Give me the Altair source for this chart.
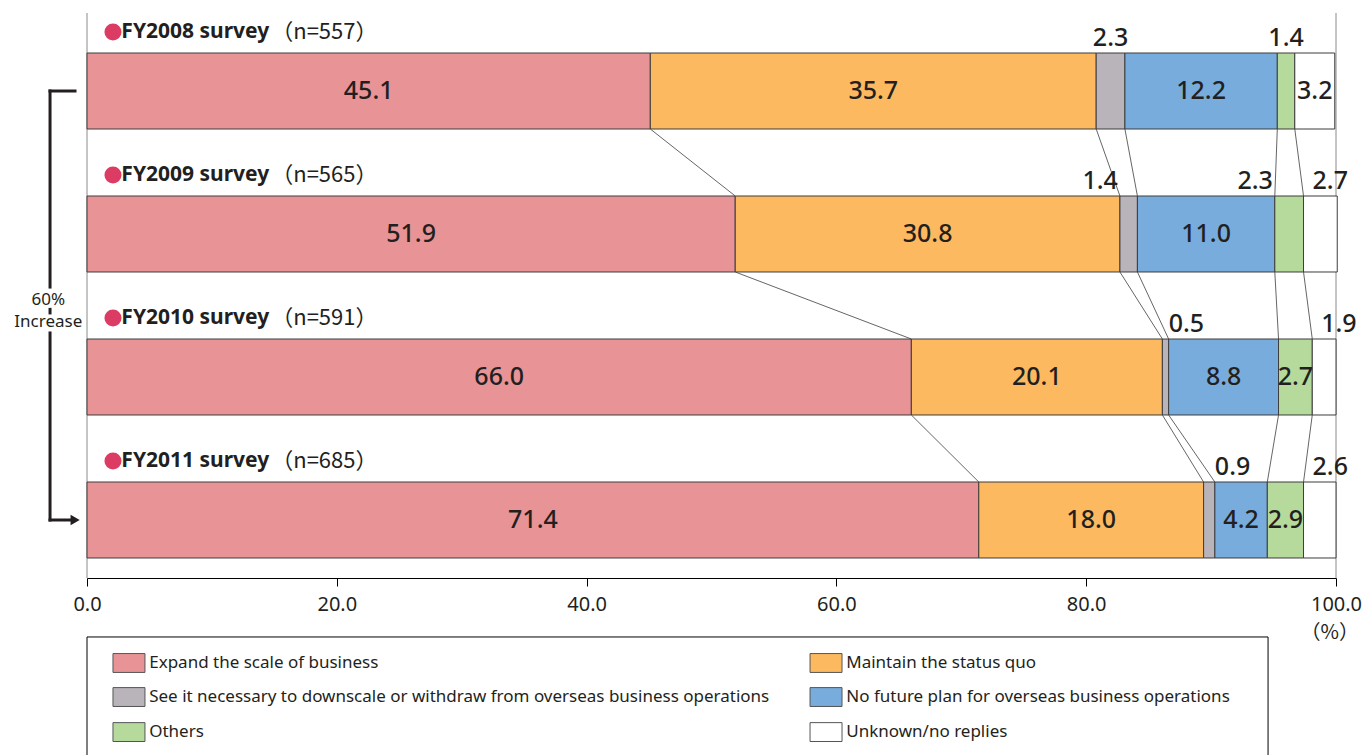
import altair as alt
import pandas as pd

# ---------------- data ----------------
years = ["FY2008 survey", "FY2009 survey", "FY2010 survey", "FY2011 survey"]
counts = ["（n=557）", "（n=565）", "（n=591）", "（n=685）"]
categories = [
    "Expand the scale of business",
    "Maintain the status quo",
    "See it necessary to downscale or withdraw from overseas business operations",
    "No future plan for overseas business operations",
    "Others",
    "Unknown/no replies",
]
expand = [45.1, 51.9, 66.0, 71.4]
maintain = [35.7, 30.8, 20.1, 18.0]
downscale = [2.3, 1.4, 0.5, 0.9]
no_plan = [12.2, 11.0, 8.8, 4.2]
others = [1.4, 2.3, 2.7, 2.9]
unknown = [3.2, 2.7, 1.9, 2.6]
x_ticks = [0, 20, 40, 60, 80, 100]
increase_text = ["60%", "Increase"]
unit_text = "（%）"

# ---------------- style ----------------
colors = ["#E89496", "#FCB960", "#B9B3BA", "#78ACDC", "#B6DA9C", "#FFFFFF"]
dot_color = "#DC3C64"
ink = "#231F20"
FONT = "Noto Sans"
CJK = "Noto Sans CJK JP"
HALF = 0.2657          # half bar thickness (row units)
HEAD_DY = -0.4126      # header offset from row centre
ABOVE_DY = -0.3706     # above-bar label offset
Y_DOMAIN = [-0.5455, 3.4056]
# label placement: (row, category) -> mode ; default inside/centred
# c: centred above, ra: right-aligned above at segment start,
# la: left-aligned above at segment end, ls: left-aligned above at segment start
placement = {
    (0, 2): "c", (0, 4): "c",
    (1, 2): "ra", (1, 4): "ra", (1, 5): "ls",
    (2, 2): "la", (2, 5): "ls",
    (3, 2): "la", (3, 5): "ls",
}

series = [expand, maintain, downscale, no_plan, others, unknown]

# ---------------- tables ----------------
seg_rows, lab_rows = [], []
cums = []
for i in range(len(years)):
    start = 0.0
    row_c = []
    for k, cat in enumerate(categories):
        v = series[k][i]
        end = start + v
        seg_rows.append(dict(cat=cat, x=start, x2=end, y=i - HALF, y2=i + HALF))
        mode = placement.get((i, k), "in")
        if mode == "in":
            lab_rows.append(dict(t=f"{v:.1f}", x=(start + end) / 2, y=i, al="center", dx=0))
        elif mode == "c":
            lab_rows.append(dict(t=f"{v:.1f}", x=(start + end) / 2, y=i + ABOVE_DY, al="center", dx=0))
        elif mode == "ra":
            lab_rows.append(dict(t=f"{v:.1f}", x=start, y=i + ABOVE_DY, al="right", dx=-2))
        elif mode == "la":
            lab_rows.append(dict(t=f"{v:.1f}", x=end, y=i + ABOVE_DY, al="left", dx=0))
        elif mode == "ls":
            lab_rows.append(dict(t=f"{v:.1f}", x=start, y=i + ABOVE_DY, al="left", dx=9))
        start = end
        row_c.append(end)
    cums.append(row_c)

segs = pd.DataFrame(seg_rows)
labs = pd.DataFrame(lab_rows)

conn = pd.DataFrame([
    dict(x=cums[i][k], x2=cums[i + 1][k], y=i + HALF, y2=i + 1 - HALF)
    for i in range(len(years) - 1) for k in range(len(categories) - 1)
])

heads = pd.DataFrame(dict(y=[i + HEAD_DY for i in range(len(years))], year=years, n=counts))

xs = alt.Scale(domain=[0, 100], nice=False, zero=False)
ys = alt.Scale(domain=Y_DOMAIN, nice=False, zero=False, reverse=True)
xaxis = alt.Axis(values=x_ticks, format=".1f", title=None, grid=False,
                 labelFontSize=20, labelFont=FONT, labelColor=ink, labelPadding=8,
                 domainColor="#000000", tickColor="#000000", tickSize=8,
                 domainWidth=1, tickWidth=1, labelFlush=False)


def X(f):
    return alt.X(f, type="quantitative", scale=xs, axis=xaxis)


def Y(f):
    return alt.Y(f, type="quantitative", scale=ys, axis=None)


color = alt.Color("cat:N", scale=alt.Scale(domain=categories, range=colors), legend=None)

# frame side lines
frame = alt.Chart(pd.DataFrame(dict(x=[0, 100], y=[Y_DOMAIN[0]] * 2, y2=[Y_DOMAIN[1]] * 2))).mark_rule(
    color="#8a8a8a", strokeWidth=1).encode(x=X("x"), y=Y("y"), y2="y2")

bars = alt.Chart(segs).mark_bar(stroke="#3d3d3d", strokeWidth=1).encode(
    x=X("x"), x2="x2", y=Y("y"), y2="y2", color=color)

connectors = alt.Chart(conn).mark_rule(color="#3d3d3d", strokeWidth=0.8).encode(
    x=X("x"), x2="x2", y=Y("y"), y2="y2")

label_layers = []
for al in ["center", "left", "right"]:
    sub = labs[labs.al == al]
    if len(sub) == 0:
        continue
    for dx in sorted(sub.dx.unique()):
        s2 = sub[sub.dx == dx]
        label_layers.append(alt.Chart(s2).mark_text(
            align=al, baseline="middle", dx=float(dx), fontSize=25, font=FONT,
            fontWeight=500, color=ink).encode(x=X("x"), y=Y("y"), text="t:N"))

dots = alt.Chart(heads).mark_circle(size=290, color=dot_color, opacity=1).encode(
    x=alt.X("dx:Q", scale=xs, axis=xaxis), y=Y("y")).transform_calculate(dx="2.08")
head_txt = alt.Chart(heads).mark_text(align="left", baseline="middle", fontSize=21, font=FONT,
                                      fontWeight="bold", color=ink).encode(
    x=alt.X("hx:Q", scale=xs, axis=xaxis), y=Y("y"), text="year:N").transform_calculate(hx="2.75")
n_txt = alt.Chart(heads).mark_text(align="left", baseline="middle", fontSize=22, font=CJK,
                                   color=ink).encode(
    x=alt.X("nx:Q", scale=xs, axis=xaxis), y=Y("y"), text="n:N").transform_calculate(nx="14.75")

# arrow annotation on the left
ax_x = -2.96
arrow_df = pd.DataFrame([
    dict(x=ax_x, x2=ax_x, y=0, y2=1.371),
    dict(x=ax_x, x2=ax_x, y=1.527, y2=1.552),
    dict(x=ax_x, x2=ax_x, y=1.692, y2=3),
    dict(x=ax_x, x2=-0.96, y=0, y2=0),
    dict(x=ax_x, x2=-1.3, y=3, y2=3),
])
arrow = alt.Chart(arrow_df).mark_rule(color=ink, strokeWidth=3, strokeCap="square").encode(
    x=X("x"), x2="x2", y=Y("y"), y2="y2")
head = alt.Chart(pd.DataFrame(dict(x=[-0.95], y=[3]))).mark_point(
    shape="triangle-right", filled=True, size=110, color=ink, opacity=1).encode(x=X("x"), y=Y("y"))
inc = alt.Chart(pd.DataFrame(dict(t=increase_text, x=[-3.1, -3.1], y=[1.4615, 1.615]))).mark_text(
    fontSize=17, font=FONT, color=ink, baseline="middle").encode(x=X("x"), y=Y("y"), text="t:N")

unit = alt.Chart(pd.DataFrame(dict(t=[unit_text], x=[99.5], y=[3.79]))).mark_text(
    fontSize=20, font=CJK, color=ink, baseline="middle").encode(x=X("x"), y=Y("y"), text="t:N")

# legend
leg_rows = []
row_y = [4.0, 4.238, 4.483]
col_x = [2.08, 57.89]
for idx, cat in enumerate(categories):
    r, c = idx // 2, idx % 2
    leg_rows.append(dict(cat=cat, x=col_x[c], x2=col_x[c] + 2.56, tx=col_x[c] + 2.9,
                         y=row_y[r] - 0.066, y2=row_y[r] + 0.066, ty=row_y[r]))
leg = pd.DataFrame(leg_rows)
box = alt.Chart(pd.DataFrame(dict(x=[0], x2=[94.56], y=[3.818], y2=[4.8]))).mark_rect(
    fill="white", stroke="#000000", strokeWidth=1).encode(x=X("x"), x2="x2", y=Y("y"), y2="y2")
swatch = alt.Chart(leg).mark_rect(stroke="#555555", strokeWidth=1).encode(
    x=X("x"), x2="x2", y=Y("y"), y2="y2", color=color)
leg_txt = alt.Chart(leg).mark_text(align="left", baseline="middle", fontSize=17, font=FONT,
                                   color=ink).encode(x=X("tx"), y=Y("ty"), text="cat:N")

chart = alt.layer(
    box, frame, bars, connectors, *label_layers, dots, head_txt, n_txt,
    arrow, head, inc, unit, swatch, leg_txt
).properties(
    width=1249, height=565, autosize="none",
    padding={"left": 87, "top": 13, "right": 29, "bottom": 177},
    background="white",
).configure_view(stroke=None)

chart.save("out.html", embed_options={"renderer": "svg", "actions": False})
